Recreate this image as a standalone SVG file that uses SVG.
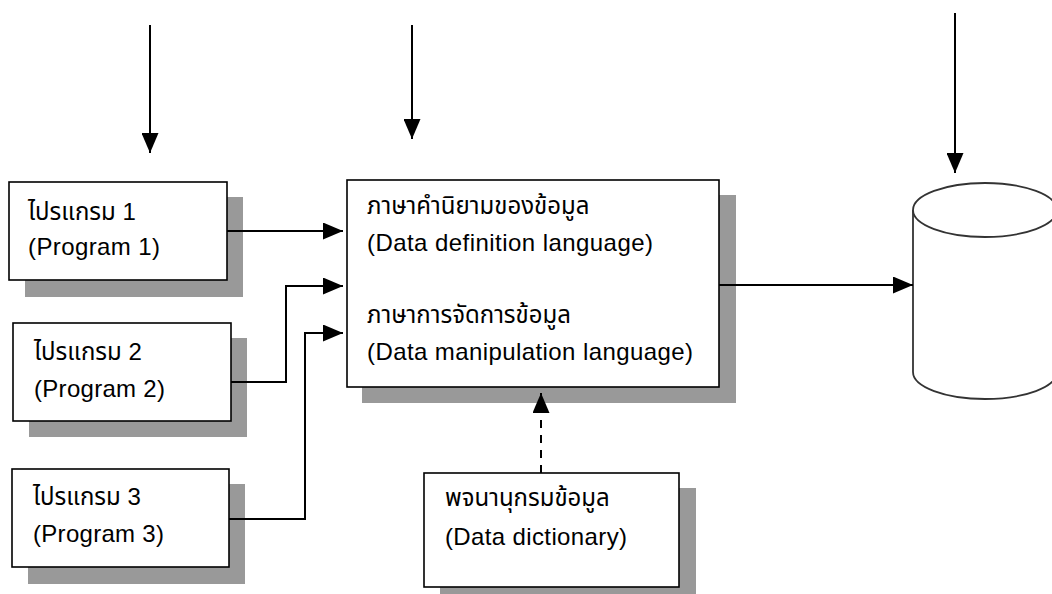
<svg xmlns="http://www.w3.org/2000/svg" width="1052" height="594" viewBox="0 0 1052 594">
  <style>
    .shadow { fill: #999999; }
    .box { fill: #ffffff; stroke: #000000; stroke-width: 1.6; }
    .txt { font-family: "Liberation Sans", Arial, "Noto Sans Thai", "Noto Sans", sans-serif; font-size: 24px; fill: #000000; }
    .line { fill: none; stroke: #000000; stroke-width: 2; }
    .dash { fill: none; stroke: #000000; stroke-width: 2; stroke-dasharray: 8 7; }
    .db { fill: #ffffff; stroke: #333333; stroke-width: 1.8; }
  </style>
  <defs>
    <marker id="head" viewBox="0 0 20 17" refX="20" refY="8.5" markerWidth="20" markerHeight="17" markerUnits="userSpaceOnUse" orient="auto">
      <path d="M0,0 L20,8.5 L0,17 Z" fill="#000000"/>
    </marker>
  </defs>

  <rect width="1052" height="594" fill="#ffffff"/>

  <!-- application programs -->
  <g id="program1">
    <rect class="shadow" x="25" y="197" width="218" height="100"/>
    <rect class="box" x="9" y="182" width="218" height="98"/>
    <text class="txt" x="28" y="220">ไปรแกรม 1</text>
    <text class="txt" x="28" y="255" textLength="132" lengthAdjust="spacing">(Program 1)</text>
  </g>
  <g id="program2">
    <rect class="shadow" x="29" y="338" width="218" height="99"/>
    <rect class="box" x="13" y="323" width="218" height="98"/>
    <text class="txt" x="34" y="360">ไปรแกรม 2</text>
    <text class="txt" x="34" y="397" textLength="131" lengthAdjust="spacing">(Program 2)</text>
  </g>
  <g id="program3">
    <rect class="shadow" x="28" y="484" width="217" height="100"/>
    <rect class="box" x="12" y="469" width="217" height="98"/>
    <text class="txt" x="33" y="505">ไปรแกรม 3</text>
    <text class="txt" x="33" y="542" textLength="131" lengthAdjust="spacing">(Program 3)</text>
  </g>

  <!-- DBMS languages -->
  <g id="dbms">
    <rect class="shadow" x="362" y="195" width="374" height="208"/>
    <rect class="box" x="347" y="180" width="372" height="207"/>
    <text class="txt" x="367" y="214">ภาษาคำนิยามของข้อมูล</text>
    <text class="txt" x="367" y="251" textLength="286" lengthAdjust="spacing">(Data definition language)</text>
    <text class="txt" x="367" y="323">ภาษาการจัดการข้อมูล</text>
    <text class="txt" x="367" y="360" textLength="326" lengthAdjust="spacing">(Data manipulation language)</text>
  </g>

  <!-- data dictionary -->
  <g id="dictionary">
    <rect class="shadow" x="440" y="488" width="256" height="110"/>
    <rect class="box" x="424" y="473" width="255" height="114"/>
    <text class="txt" x="445" y="506">พจนานุกรมข้อมูล</text>
    <text class="txt" x="445" y="545" textLength="182" lengthAdjust="spacing">(Data dictionary)</text>
  </g>

  <!-- database cylinder -->
  <g id="database">
    <path class="db" d="M913,210 L913,372 A72,27 0 0 0 1057,372 L1057,210"/>
    <ellipse class="db" cx="985" cy="210" rx="72" ry="27"/>
  </g>

  <g id="connectors">
    <line class="line" x1="150" y1="25" x2="150" y2="153" marker-end="url(#head)"/>
    <line class="line" x1="412" y1="25" x2="412" y2="139" marker-end="url(#head)"/>
    <line class="line" x1="955" y1="13" x2="955" y2="173" marker-end="url(#head)"/>
    <path class="line" d="M227,231 L343,231" marker-end="url(#head)"/>
    <path class="line" d="M231,382 L286,382 L286,286 L343,286" marker-end="url(#head)"/>
    <path class="line" d="M229,519 L305,519 L305,333 L343,333" marker-end="url(#head)"/>
    <path class="line" d="M719,285 L913,285" marker-end="url(#head)"/>
    <path class="dash" d="M541,473 L541,393" marker-end="url(#head)"/>
  </g>
</svg>
